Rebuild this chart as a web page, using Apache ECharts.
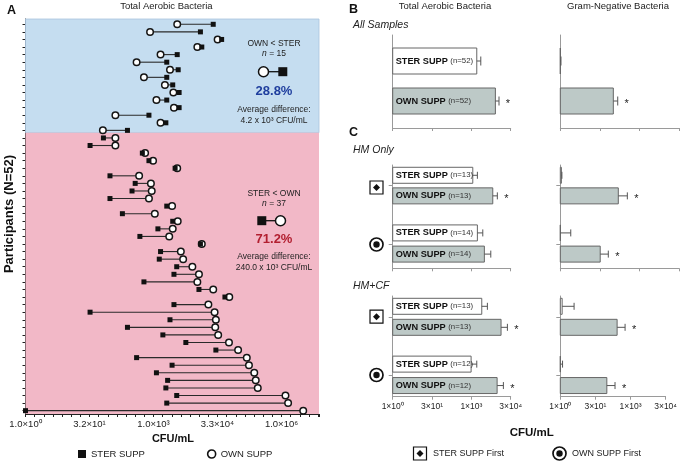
<!DOCTYPE html>
<html><head><meta charset="utf-8">
<script src="https://cdn.jsdelivr.net/npm/echarts@6/dist/echarts.min.js"></script>
<style>html,body{margin:0;padding:0;background:#fff}#c{width:680px;height:463px}</style>
</head><body><div id="c"></div>
<script>
// ---------- DATA ----------
// Panel A: CFU/mL per participant (row 1 = top)
const participants = [1,2,3,4,5,6,7,8,9,10,11,12,13,14,15,16,17,18,19,20,21,22,23,24,25,26,
  27,28,29,30,31,32,33,34,35,36,37,38,39,40,41,42,43,44,45,46,47,48,49,50,51,52];
const sterSupp = [26000,13000,41000,14000,3700,2100,3900,2100,2900,4100,2100,4100,800,2000,250,
  68,33,560,800,3300,97,380,320,97,2100,190,2900,1300,490,13000,1500,1400,3600,3100,610,12000,
  49000,3100,33,2500,250,1700,5900,30000,410,2800,1200,2200,2000,3600,2100,1];
const ownSupp = [3700,850,33000,11000,1500,410,2500,610,1900,3000,1200,3100,130,1500,66,
  130,130,650,1000,3700,470,890,930,800,2800,1100,3800,2900,2400,14000,4500,5100,8400,12000,11000,26000,
  62000,20000,28000,30000,29000,34000,61000,100000,160000,180000,240000,260000,290000,1300000,1500000,3400000];
const xTickExponents = [0, 5, 10, 15, 20]; // log2 tick positions

// Panels B / C: means (CFU/mL) and upper error-bar ends
const barGroups = ['STER SUPP', 'OWN SUPP'];
const nAll  = [52, 52];
const nHM   = [13, 13, 14, 14];
const nHMCF = [13, 13, 12, 12];
const totalAll = [1650, 8500];       const totalAllHi = [2350, 11700];
const gramAll  = [1, 104];           const gramAllHi  = [1.06, 153];
const totalHM  = [1160, 6750, 1740, 3220];  const totalHMHi = [1740, 10100, 2800, 5670];
const gramHM   = [1.1, 161, 1, 33];         const gramHMHi  = [1.15, 355, 2.5, 67];
const totalHMCF = [2560, 14000, 1000, 9900]; const totalHMCFHi = [4200, 24500, 1650, 17200];
const gramHMCF  = [1.2, 273, 1, 99];         const gramHMCFHi  = [3.9, 600, 1.25, 222];
const starTotalAll = [0, 1], starGramAll = [0, 1];
const starTotalHM = [0, 1, 0, 0], starGramHM = [0, 1, 0, 1];
const starTotalHMCF = [0, 1, 0, 1], starGramHMCF = [0, 1, 0, 1];

// ---------- LAYOUT ----------
const FONT = '"Liberation Sans", Arial, Helvetica, sans-serif';
const OWN_FILL = '#bdc9c7';
const posB = [1, 2];
const posHM = [1, 2, 3.8, 4.83];
const posHMCF = [1, 2, 3.75, 4.77];

const sup = {'0':'⁰','1':'¹','2':'²','3':'³','4':'⁴','5':'⁵','6':'⁶','7':'⁷','8':'⁸','9':'⁹','-':'⁻'};
function sci(exp2, digits) {
  const x = Math.pow(2, exp2);
  const e = Math.floor(Math.log10(x) + 1e-9);
  const m = x / Math.pow(10, e);
  return m.toFixed(digits) + '×10' + String(e).split('').map(c => sup[c]).join('');
}
function isTick(v) { return xTickExponents.some(t => Math.abs(t - v) < 1e-6); }

const chart = echarts.init(document.getElementById('c'), null, {renderer: 'canvas'});

function barRender(cfg) {
  return function (params, api) {
    const i = params.dataIndex;
    const v = api.value(0), p = api.value(1), h = api.value(2), star = api.value(3);
    const base = api.coord([0, p]);
    const end = api.coord([v, p]);
    const hiPt = api.coord([h, p]);
    const cy = base[1];
    const own = i % 2 === 1;
    const ch = [
      {type: 'rect', shape: {x: base[0], y: cy - cfg.barH / 2, width: Math.max(end[0] - base[0], 0), height: cfg.barH},
        style: {fill: own ? OWN_FILL : '#ffffff', stroke: '#666', lineWidth: 1}},
      {type: 'line', shape: {x1: end[0], y1: cy, x2: hiPt[0], y2: cy}, style: {stroke: '#555', lineWidth: 1}},
      {type: 'line', shape: {x1: hiPt[0], y1: cy - cfg.capH / 2, x2: hiPt[0], y2: cy + cfg.capH / 2}, style: {stroke: '#555', lineWidth: 1}}
    ];
    if (cfg.ns) {
      ch.push({type: 'text', style: {
        text: '{b|' + barGroups[i % 2] + '} {n|(n=' + cfg.ns[i] + ')}',
        x: base[0] + 3, y: cy, align: 'left', verticalAlign: 'middle', textAlign: 'left', textVerticalAlign: 'middle',
        font: '9.2px ' + FONT, fill: '#111',
        rich: {b: {fontWeight: 'bold', fontSize: 9.2, fontFamily: FONT, fill: '#111'},
               n: {fontSize: 7.8, fontFamily: FONT, fill: '#333'}}
      }});
    }
    if (star) {
      ch.push({type: 'text', style: {text: '*', x: hiPt[0] + 9, y: cy + 3, align: 'center', verticalAlign: 'middle',
        textAlign: 'center', textVerticalAlign: 'middle', font: '11px ' + FONT, fill: '#222'}});
    }
    return {type: 'group', children: ch};
  };
}
function barSeries(idx, vals, his, pos, stars, cfg) {
  return {
    type: 'custom', name: 'bars' + idx, xAxisIndex: idx, yAxisIndex: idx, silent: true, z: 3,
    renderItem: barRender(cfg), encode: {x: [0, 2], y: 1},
    data: vals.map((v, i) => [Math.log2(v), pos[i], Math.log2(his[i]), stars[i]])
  };
}

const grids = [
  {left: 25.5, top: 19, width: 293.5, height: 395},
  {left: 392.7, top: 35, width: 118, height: 93},
  {left: 560.3, top: 35, width: 118.7, height: 93},
  {left: 392.7, top: 165, width: 118, height: 103.3},
  {left: 560.3, top: 165, width: 118.7, height: 103.3},
  {left: 392.7, top: 296, width: 118, height: 100.7},
  {left: 560.3, top: 296, width: 118.7, height: 100.7}
];

const xAxes = [{
  gridIndex: 0, type: 'value', min: 0, max: 22.93, interval: 5,
  axisLine: {show: true, lineStyle: {color: '#222', width: 1}},
  axisTick: {show: true, length: 3, lineStyle: {color: '#222'}},
  minorTick: {show: true, splitNumber: 7, length: 3, lineStyle: {color: '#222'}},
  axisLabel: {show: true, margin: 5, fontSize: 9.5, color: '#222', fontFamily: FONT, showMaxLabel: false,
    formatter: v => isTick(v) ? sci(v, 1) : ''},
  splitLine: {show: false}, minorSplitLine: {show: false}
}];
for (let g = 1; g <= 6; g++) {
  xAxes.push({
    gridIndex: g, type: 'value', min: 0, max: 15, interval: 5,
    axisLine: {show: true, lineStyle: {color: '#9a9a9a', width: 1}},
    axisTick: {show: true, length: 3, lineStyle: {color: '#9a9a9a'}},
    axisLabel: {show: g >= 5, margin: 5, fontSize: 8.5, color: '#222', fontFamily: FONT,
      formatter: v => isTick(v) ? sci(v, 0) : ''},
    splitLine: {show: false}
  });
}
const yAxes = [{
  gridIndex: 0, type: 'value', inverse: true, min: 0.3, max: 52.44,
  axisLine: {show: true, lineStyle: {color: '#222', width: 1}},
  axisTick: {show: true, length: 3, customValues: participants, lineStyle: {color: '#222'}},
  axisLabel: {show: false}, splitLine: {show: false}
}];
const yRanges = [[0.35, 2.675], [0.35, 2.675], [0.5, 5.52], [0.5, 5.52], [0.51, 5.30], [0.51, 5.30]];
const yTicks = [null, null, [1.5, 4.33], [1.5, 4.33], [1.5, 4.26], [1.5, 4.26]];
for (let g = 1; g <= 6; g++) {
  const t = yTicks[g - 1];
  yAxes.push({
    gridIndex: g, type: 'value', inverse: true, min: yRanges[g - 1][0], max: yRanges[g - 1][1],
    axisLine: {show: true, onZero: false, lineStyle: {color: '#9a9a9a', width: 1}},
    axisTick: t ? {show: true, length: 4, customValues: t, lineStyle: {color: '#9a9a9a'}} : {show: false},
    axisLabel: {show: false}, splitLine: {show: false}
  });
}

const series = [
  {
    type: 'custom', name: 'pairs', xAxisIndex: 0, yAxisIndex: 0, silent: true, z: 2,
    encode: {x: [0, 1], y: 2},
    data: participants.map((r, i) => [Math.log2(sterSupp[i]), Math.log2(ownSupp[i]), r]),
    renderItem: function (params, api) {
      const a = api.coord([api.value(0), api.value(2)]);
      const b = api.coord([api.value(1), api.value(2)]);
      return {type: 'line', shape: {x1: a[0], y1: a[1], x2: b[0], y2: b[1]}, style: {stroke: '#2a2a2a', lineWidth: 1.1}};
    },
    markArea: {
      silent: true,
      data: [
        [{yAxis: 0.3, itemStyle: {color: '#c5ddf0', borderColor: '#a9c4dd', borderWidth: 0.8}}, {yAxis: 15.3}],
        [{yAxis: 15.3, itemStyle: {color: '#f2b8c7'}}, {yAxis: 52.44}]
      ]
    }
  },
  {
    type: 'scatter', name: 'OWN SUPP', xAxisIndex: 0, yAxisIndex: 0, z: 3, silent: true,
    symbol: 'circle', symbolSize: 6.5,
    itemStyle: {color: '#ffffff', borderColor: '#151515', borderWidth: 1.5, opacity: 1},
    data: participants.map((r, i) => [Math.log2(ownSupp[i]), r])
  },
  {
    type: 'scatter', name: 'STER SUPP', xAxisIndex: 0, yAxisIndex: 0, z: 4, silent: true,
    symbol: 'rect', symbolSize: 5,
    itemStyle: {color: '#111111', opacity: 1},
    data: participants.map((r, i) => [Math.log2(sterSupp[i]), r])
  },
  barSeries(1, totalAll, totalAllHi, posB, starTotalAll, {barH: 26, capH: 9, ns: nAll}),
  barSeries(2, gramAll, gramAllHi, posB, starGramAll, {barH: 26, capH: 9}),
  barSeries(3, totalHM, totalHMHi, posHM, starTotalHM, {barH: 16, capH: 7, ns: nHM}),
  barSeries(4, gramHM, gramHMHi, posHM, starGramHM, {barH: 16, capH: 7}),
  barSeries(5, totalHMCF, totalHMCFHi, posHMCF, starTotalHMCF, {barH: 16, capH: 7, ns: nHMCF}),
  barSeries(6, gramHMCF, gramHMCFHi, posHMCF, starGramHMCF, {barH: 16, capH: 7})
];

function txt(x, y, text, o) {
  const style = Object.assign({x: x, y: y, text: text, fill: '#222', font: '9.5px ' + FONT,
    align: 'left', verticalAlign: 'middle', textAlign: 'left', textVerticalAlign: 'middle'}, o || {});
  if (o && o.align) style.textAlign = o.align;
  return {type: 'text', silent: true, z: 10, style: style};
}
function ctxt(x, y, text, o) { return txt(x, y, text, Object.assign({align: 'center'}, o || {})); }
function diamondIcon(cx, cy) {
  return [
    {type: 'rect', silent: true, z: 10, shape: {x: cx - 6.5, y: cy - 6.5, width: 13, height: 13}, style: {fill: '#fff', stroke: '#111', lineWidth: 1.2}},
    {type: 'polygon', silent: true, z: 11, shape: {points: [[cx, cy - 3.5], [cx + 3.5, cy], [cx, cy + 3.5], [cx - 3.5, cy]]}, style: {fill: '#111'}}
  ];
}
function circleIcon(cx, cy) {
  return [
    {type: 'circle', silent: true, z: 10, shape: {cx: cx, cy: cy, r: 6.5}, style: {fill: '#fff', stroke: '#111', lineWidth: 1.7}},
    {type: 'circle', silent: true, z: 11, shape: {cx: cx, cy: cy, r: 3.2}, style: {fill: '#111'}}
  ];
}
const italicN = {i: {fontStyle: 'italic', fontSize: 8.5, fontFamily: FONT, fill: '#222'}};
const ann = '8.5px ' + FONT;

const graphics = [
  txt(7, 11, 'A', {font: 'bold 12.5px ' + FONT, fill: '#111'}),
  ctxt(166.4, 6.5, 'Total Aerobic Bacteria', {font: '9.5px ' + FONT}),
  {type: 'text', silent: true, z: 10, x: 9.5, y: 214, rotation: Math.PI / 2,
    style: {x: 0, y: 0, text: 'Participants (N=52)', font: 'bold 13px ' + FONT, fill: '#111',
      align: 'center', verticalAlign: 'middle', textAlign: 'center', textVerticalAlign: 'middle'}},
  ctxt(173, 439, 'CFU/mL', {font: 'bold 11px ' + FONT, fill: '#111'}),
  // blue annotation
  ctxt(274, 43.3, 'OWN < STER', {font: ann}),
  ctxt(274, 53.3, '{i|n} = 15', {font: ann, rich: italicN}),
  {type: 'line', silent: true, z: 10, shape: {x1: 268, y1: 71.7, x2: 280, y2: 71.7}, style: {stroke: '#111', lineWidth: 1.3}},
  {type: 'circle', silent: true, z: 11, shape: {cx: 263.5, cy: 71.7, r: 5}, style: {fill: '#fff', stroke: '#111', lineWidth: 1.5}},
  {type: 'rect', silent: true, z: 11, shape: {x: 278.3, y: 67.2, width: 9, height: 9}, style: {fill: '#111'}},
  ctxt(274, 91.7, '28.8%', {font: 'bold 13px ' + FONT, fill: '#1f3e9e'}),
  ctxt(274, 109.3, 'Average difference:', {font: ann}),
  ctxt(274, 120.3, '4.2 x 10³ CFU/mL', {font: ann}),
  // pink annotation
  ctxt(274, 194, 'STER < OWN', {font: ann}),
  ctxt(274, 204, '{i|n} = 37', {font: ann, rich: italicN}),
  {type: 'line', silent: true, z: 10, shape: {x1: 264, y1: 220.7, x2: 276, y2: 220.7}, style: {stroke: '#111', lineWidth: 1.3}},
  {type: 'rect', silent: true, z: 11, shape: {x: 257.3, y: 216.2, width: 9, height: 9}, style: {fill: '#111'}},
  {type: 'circle', silent: true, z: 11, shape: {cx: 280.5, cy: 220.7, r: 5}, style: {fill: '#fff', stroke: '#111', lineWidth: 1.5}},
  ctxt(274, 239, '71.2%', {font: 'bold 13px ' + FONT, fill: '#b21f30'}),
  ctxt(274, 256.7, 'Average difference:', {font: ann}),
  ctxt(274, 267.5, '240.0 x 10³ CFU/mL', {font: ann}),
  // panels B / C headings
  txt(349, 10, 'B', {font: 'bold 12.5px ' + FONT, fill: '#111'}),
  ctxt(445, 6.5, 'Total Aerobic Bacteria', {font: '9.5px ' + FONT}),
  ctxt(618, 6.5, 'Gram-Negative Bacteria', {font: '9.5px ' + FONT}),
  txt(353, 25, 'All Samples', {font: 'italic 10.5px ' + FONT}),
  txt(349, 133, 'C', {font: 'bold 12.5px ' + FONT, fill: '#111'}),
  txt(353, 150, 'HM Only', {font: 'italic 10.5px ' + FONT}),
  txt(353, 286, 'HM+CF', {font: 'italic 10.5px ' + FONT}),
  ctxt(531.7, 433, 'CFU/mL', {font: 'bold 11.5px ' + FONT, fill: '#111'}),
  ...diamondIcon(376.5, 187.5),
  ...circleIcon(376.5, 244.5),
  ...diamondIcon(376.5, 316.7),
  ...circleIcon(376.5, 375),
  ...diamondIcon(420, 453.5),
  txt(433, 453.5, 'STER SUPP First', {font: '9px ' + FONT}),
  ...circleIcon(559.5, 453.5),
  txt(572, 453.5, 'OWN SUPP First', {font: '9px ' + FONT})
];

chart.setOption({
  animation: false,
  backgroundColor: '#ffffff',
  textStyle: {fontFamily: FONT},
  grid: grids,
  xAxis: xAxes,
  yAxis: yAxes,
  legend: {
    left: 73, top: 444, itemWidth: 8, itemHeight: 8, itemGap: 62, selectedMode: false,
    textStyle: {fontSize: 9.5, color: '#222', fontFamily: FONT},
    data: [
      {name: 'STER SUPP', icon: 'rect', itemStyle: {color: '#111', borderWidth: 0}},
      {name: 'OWN SUPP', icon: 'circle', itemStyle: {color: '#fff', borderColor: '#111', borderWidth: 1.6}}
    ]
  },
  series: series,
  graphic: graphics
});
</script></body></html>
